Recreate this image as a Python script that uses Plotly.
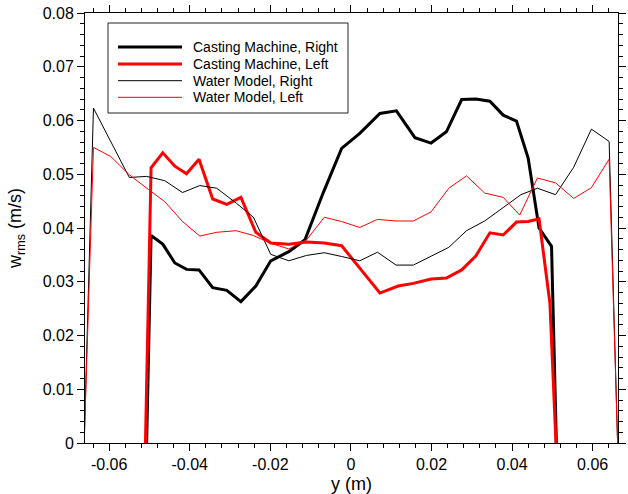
import plotly.graph_objects as go

# ---- data ----
cm_right_y = [-0.0507, -0.0496, -0.0467, -0.0437, -0.0408, -0.0377, -0.0343, -0.0308, -0.0273, -0.0236,
              -0.0199, -0.0154, -0.0114, -0.0069, -0.0023, 0.0022, 0.0072, 0.0113, 0.0159, 0.0199,
              0.0237, 0.0275, 0.0310, 0.0345, 0.0378, 0.0411, 0.0440, 0.0467, 0.0498, 0.0510]
cm_right_w = [0.0, 0.0386, 0.0370, 0.0335, 0.0323, 0.0322, 0.0289, 0.0284, 0.0263, 0.0292,
              0.0339, 0.0356, 0.0378, 0.0465, 0.0548, 0.0576, 0.0613, 0.0618, 0.0568, 0.0558,
              0.0579, 0.0639, 0.0640, 0.0636, 0.0610, 0.0599, 0.0530, 0.0400, 0.0366, 0.0]

cm_left_y = [-0.0510, -0.0496, -0.0467, -0.0437, -0.0408, -0.0377, -0.0343, -0.0308, -0.0273, -0.0236,
             -0.0199, -0.0154, -0.0110, -0.0066, -0.0023, 0.0072, 0.0117, 0.0155, 0.0199, 0.0237,
             0.0275, 0.0310, 0.0345, 0.0378, 0.0411, 0.0440, 0.0467, 0.0494, 0.0509]
cm_left_w = [0.0, 0.0512, 0.0540, 0.0515, 0.0501, 0.0528, 0.0454, 0.0444, 0.0457, 0.0392,
             0.0372, 0.0370, 0.0374, 0.0372, 0.0367, 0.0279, 0.0292, 0.0297, 0.0305, 0.0307,
             0.0322, 0.0348, 0.0391, 0.0387, 0.0411, 0.0412, 0.0417, 0.0260, 0.0]

wm_right_y = [-0.0662, -0.0639, -0.0550, -0.0507, -0.0462, -0.0418, -0.0375, -0.0333, -0.0284, -0.0242,
              -0.0199, -0.0154, -0.0110, -0.0066, -0.0023, 0.0022, 0.0066, 0.0112, 0.0155, 0.0199,
              0.0243, 0.0287, 0.0332, 0.0378, 0.0422, 0.0463, 0.0508, 0.0553, 0.0597, 0.0641, 0.0662]
wm_right_w = [0.0, 0.0623, 0.0494, 0.0496, 0.0488, 0.0466, 0.0479, 0.0474, 0.0446, 0.0420,
              0.0351, 0.0339, 0.0349, 0.0354, 0.0347, 0.0339, 0.0355, 0.0331, 0.0331, 0.0348,
              0.0364, 0.0395, 0.0413, 0.0438, 0.0462, 0.0474, 0.0462, 0.0513, 0.0584, 0.0561, 0.0]

wm_left_y = [-0.0662, -0.0639, -0.0596, -0.0550, -0.0503, -0.0462, -0.0418, -0.0375, -0.0333, -0.0285,
             -0.0242, -0.0201, -0.0154, -0.0110, -0.0066, -0.0023, 0.0022, 0.0066, 0.0112, 0.0155,
             0.0199, 0.0243, 0.0287, 0.0332, 0.0378, 0.0419, 0.0463, 0.0508, 0.0553, 0.0597, 0.0641, 0.0662]
wm_left_w = [0.0, 0.0550, 0.0533, 0.0499, 0.0472, 0.0449, 0.0412, 0.0385, 0.0392, 0.0395,
             0.0386, 0.0372, 0.0361, 0.0378, 0.0420, 0.0412, 0.0401, 0.0416, 0.0413, 0.0413,
             0.0430, 0.0474, 0.0497, 0.0465, 0.0457, 0.0424, 0.0493, 0.0484, 0.0455, 0.0475, 0.0528, 0.0]

x_tickvals = [-0.06, -0.04, -0.02, 0.0, 0.02, 0.04, 0.06]
x_ticktext = ["-0.06", "-0.04", "-0.02", "0", "0.02", "0.04", "0.06"]
y_tickvals = [0.0, 0.01, 0.02, 0.03, 0.04, 0.05, 0.06, 0.07, 0.08]
y_ticktext = ["0", "0.01", "0.02", "0.03", "0.04", "0.05", "0.06", "0.07", "0.08"]

series_names = ["Casting Machine, Right", "Casting Machine, Left", "Water Model, Right", "Water Model, Left"]
series_x = [cm_right_y, cm_left_y, wm_right_y, wm_left_y]
series_y = [cm_right_w, cm_left_w, wm_right_w, wm_left_w]
series_color = ["black", "red", "black", "red"]
series_width = [3, 3, 1, 1]

# ---- layout geometry (pixels) ----
W, H = 628, 494
ML, MR, MT, MB = 85, 10, 13, 51
PW, PH = W - ML - MR, H - MT - MB


def px_x(p):
    return (p - ML) / PW


def px_y(p):
    return (H - MB - p) / PH


FONT = "Liberation Sans, Arial, sans-serif"

fig = go.Figure()
for name, xs, ys, col, w in zip(series_names, series_x, series_y, series_color, series_width):
    fig.add_trace(go.Scatter(x=xs, y=ys, mode="lines", name=name, showlegend=False,
                             line=dict(color=col, width=w)))

# ---- legend box drawn as shapes + text ----
shapes = [dict(type="rect", xref="paper", yref="paper",
               x0=px_x(108), x1=px_x(348), y0=px_y(113), y1=px_y(23),
               line=dict(color="#222", width=1), fillcolor="white", layer="above")]
annotations = []
row_y = [47, 64, 80.7, 97.3]
for name, col, w, ry in zip(series_names, series_color, series_width, row_y):
    shapes.append(dict(type="line", xref="paper", yref="paper",
                       x0=px_x(118), x1=px_x(182), y0=px_y(ry), y1=px_y(ry),
                       line=dict(color=col, width=w), layer="above"))
    annotations.append(dict(xref="paper", yref="paper", x=px_x(191), y=px_y(ry),
                            xanchor="left", yanchor="middle", showarrow=False, text=name,
                            font=dict(family=FONT, size=14, color="black")))

axis_common = dict(
    showline=True, linecolor="black", linewidth=1, mirror="ticks",
    ticks="outside", ticklen=7, tickwidth=1, tickcolor="black",
    showgrid=False, zeroline=False, automargin=False,
    tickfont=dict(family=FONT, size=16, color="black"),
)

fig.update_layout(
    width=W, height=H,
    margin=dict(l=ML, r=MR, t=MT, b=MB, autoexpand=False),
    paper_bgcolor="white", plot_bgcolor="white",
    font=dict(family=FONT, color="black"),
    showlegend=False,
    shapes=shapes, annotations=annotations,
    xaxis=dict(range=[-0.066, 0.0663], tickmode="array", tickvals=x_tickvals, ticktext=x_ticktext,
               minor=dict(tickmode="linear", tick0=0, dtick=0.004, ticklen=4, ticks="outside",
                          tickcolor="black"),
               title=dict(text="y (m)", font=dict(family=FONT, size=18, color="black"), standoff=9),
               **axis_common),
    yaxis=dict(range=[0, 0.08], tickmode="array", tickvals=y_tickvals, ticktext=y_ticktext,
               minor=dict(tickmode="linear", tick0=0, dtick=0.002, ticklen=4, ticks="outside",
                          tickcolor="black"),
               title=dict(text="w<sub>rms</sub> (m/s)", font=dict(family=FONT, size=18, color="black"),
                          standoff=16),
               **axis_common),
)

fig.write_html("out.html")
